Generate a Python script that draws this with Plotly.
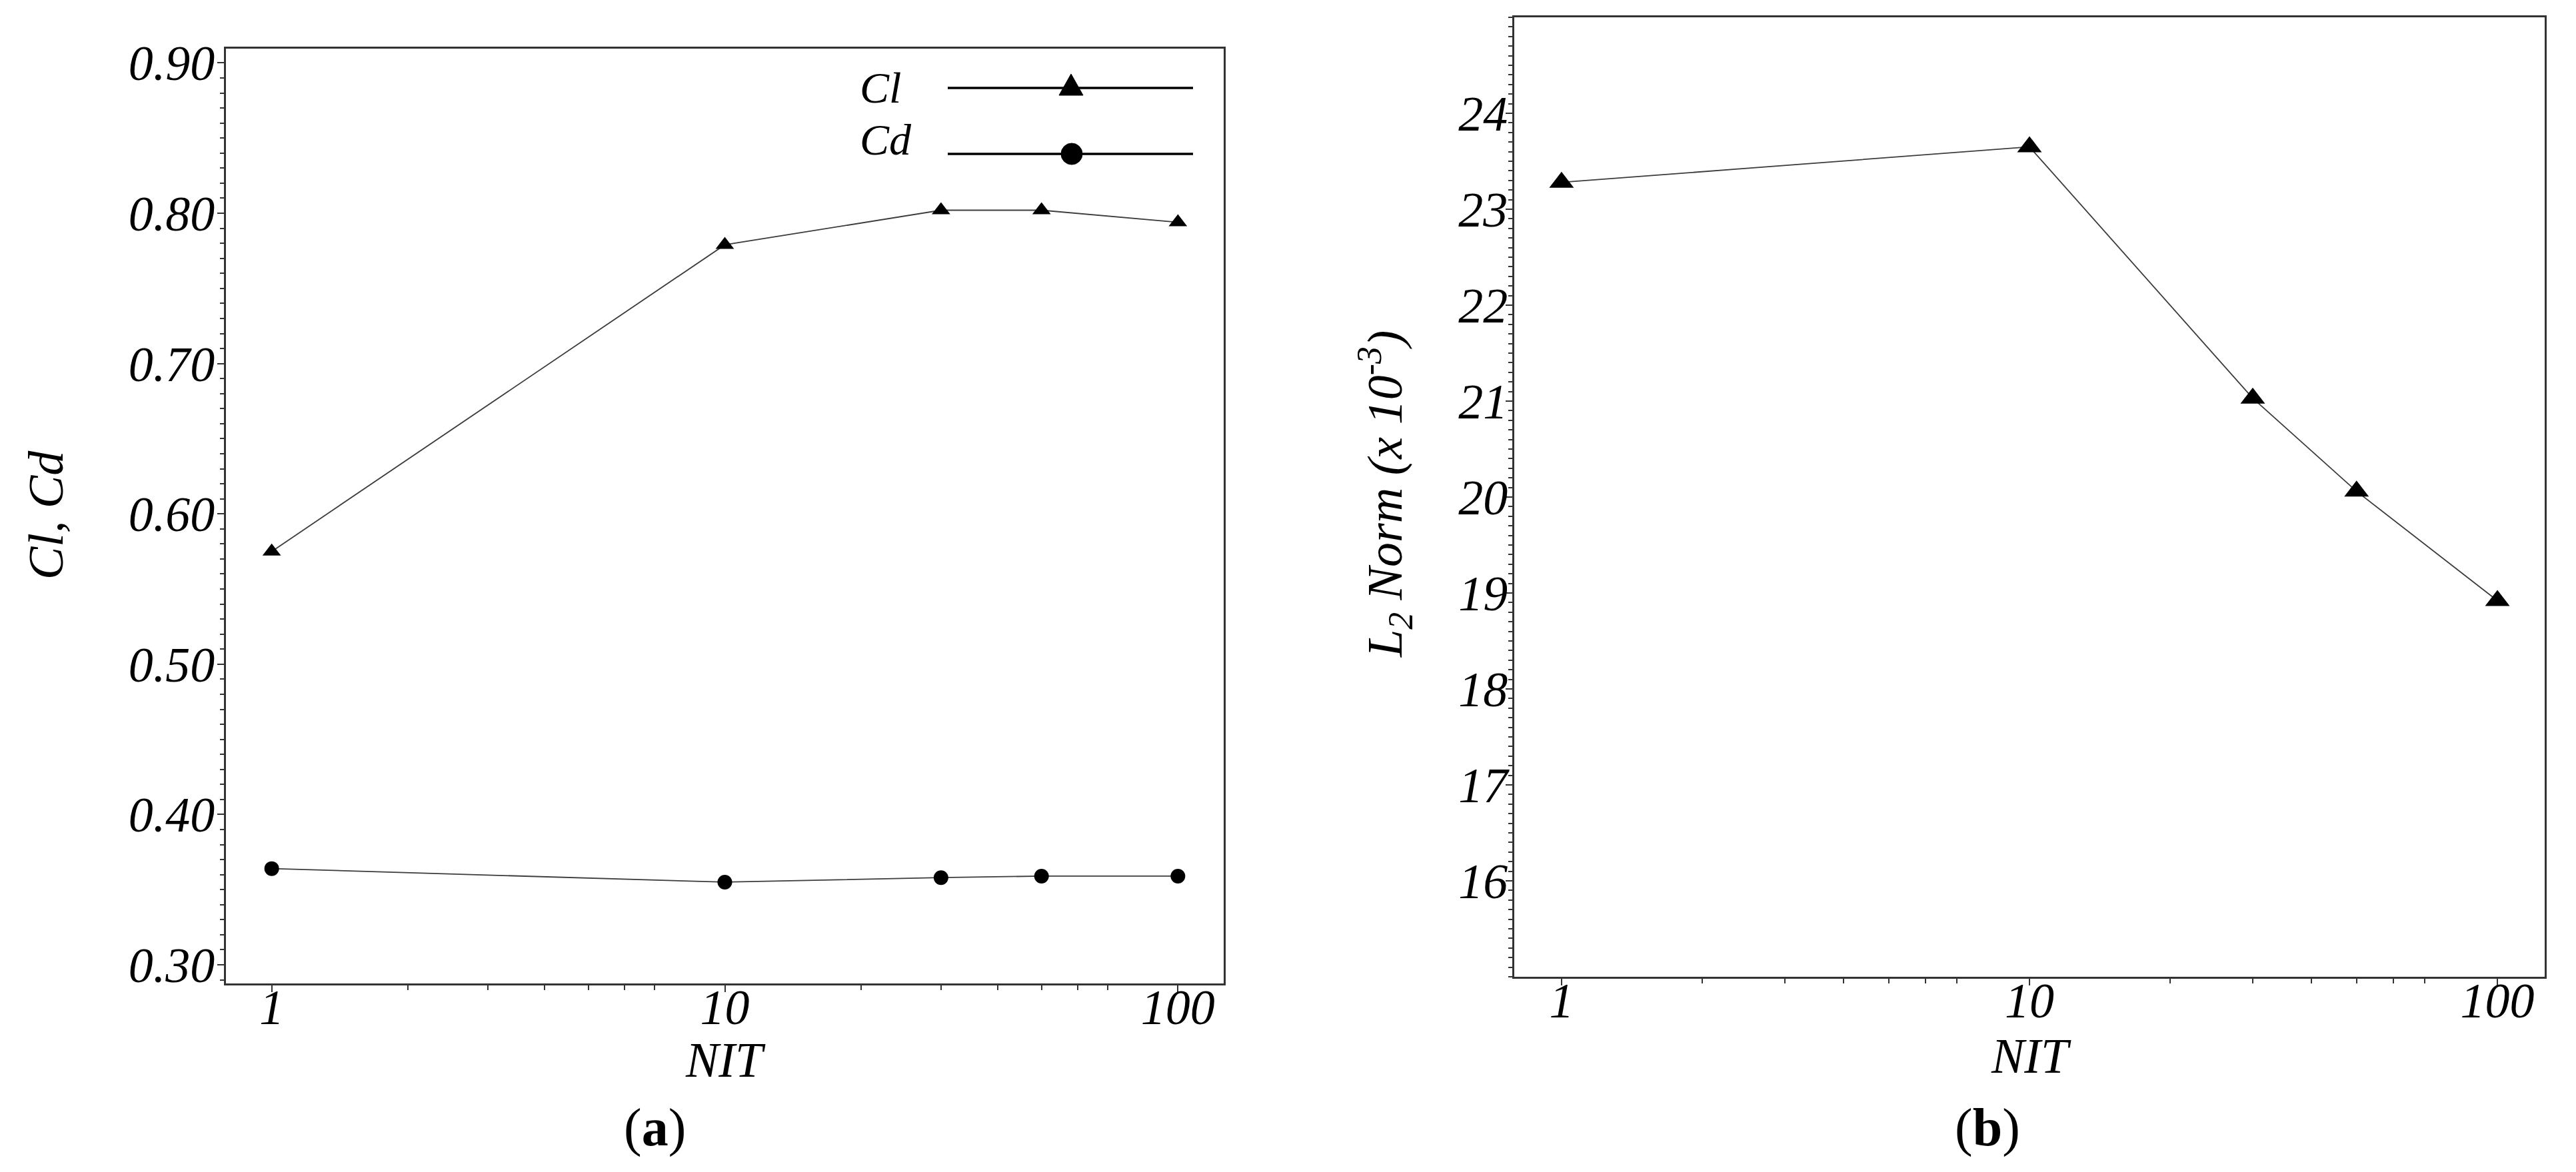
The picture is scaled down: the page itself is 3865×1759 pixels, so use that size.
import plotly.graph_objects as go

# ---------------- data ----------------
nit = [1, 10, 30, 50, 100]
cl_values = [0.575, 0.779, 0.802, 0.802, 0.794]
cd_values = [0.364, 0.355, 0.358, 0.359, 0.359]
l2_values = [23.28, 23.65, 21.03, 20.06, 18.92]

x_tickvals = [1, 10, 100]
x_ticktext = ["1", "10", "100"]
x_minor = [2, 3, 4, 5, 6, 7, 20, 30, 40, 50, 60, 70]
left_yticks = [0.30, 0.40, 0.50, 0.60, 0.70, 0.80, 0.90]
right_yticks = [16, 17, 18, 19, 20, 21, 22, 23, 24]

W, H = 3865, 1759
OFF = 8  # default page body margin
FONT = "Liberation Serif"
AX = "#333333"
LINE = "#3c3c3c"


def fx(p):
    return (p - OFF) / W


def fy(p):
    return 1 - (p - OFF) / H


fig = go.Figure()

fig.add_trace(go.Scatter(
    x=nit, y=cl_values, mode="lines+markers", name="Cl",
    line=dict(color=LINE, width=1.8),
    marker=dict(symbol="triangle-up", size=24, color="black"),
    xaxis="x", yaxis="y", showlegend=False))
fig.add_trace(go.Scatter(
    x=nit, y=cd_values, mode="lines+markers", name="Cd",
    line=dict(color=LINE, width=1.8),
    marker=dict(symbol="circle", size=22, color="black"),
    xaxis="x", yaxis="y", showlegend=False))
fig.add_trace(go.Scatter(
    x=nit, y=l2_values, mode="lines+markers", name="L2 Norm",
    line=dict(color=LINE, width=1.8),
    marker=dict(symbol="triangle-up", size=32, color="black"),
    xaxis="x2", yaxis="y2", showlegend=False))

tickfont = dict(family=FONT, size=74, color="black", style="italic")

common_x = dict(
    type="log", range=[-0.101, 2.101], tickmode="array",
    tickvals=x_tickvals, ticktext=x_ticktext,
    showline=True, linecolor=AX, linewidth=3, mirror=True,
    ticks="outside", ticklen=10, tickwidth=2, tickcolor=AX,
    showgrid=False, zeroline=False, tickfont=tickfont, automargin=False,
    ticklabelstandoff=-41,
    minor=dict(tickmode="array", tickvals=x_minor, ticks="outside",
               ticklen=7, tickwidth=2, tickcolor=AX, showgrid=False),
)
common_y = dict(
    showline=True, linecolor=AX, linewidth=3, mirror=True,
    ticks="outside", ticklen=10, tickwidth=2, tickcolor=AX,
    showgrid=False, zeroline=False, tickfont=tickfont, automargin=False,
)

fig.update_layout(
    template="none",
    width=W, height=H,
    margin=dict(l=0, r=0, t=0, b=0, autoexpand=False),
    paper_bgcolor="white", plot_bgcolor="white",
    xaxis=dict(domain=[fx(339), fx(1836)], anchor="y", **common_x),
    yaxis=dict(domain=[fy(1476), fy(73)], anchor="x",
               range=[0.2876, 0.9095], tickmode="array",
               tickvals=left_yticks, tickformat=".2f",
               ticklabelstandoff=-11,
               minor=dict(dtick=0.01, ticks="outside", ticklen=6,
                          tickwidth=2, tickcolor=AX, showgrid=False),
               **common_y),
    xaxis2=dict(domain=[fx(2272), fx(3818)], anchor="y2", **common_x),
    yaxis2=dict(domain=[fy(1466), fy(26)], anchor="x2",
                range=[15, 25], tickmode="array", tickvals=right_yticks,
                ticklabelstandoff=-18,
                minor=dict(dtick=0.1, ticks="outside", ticklen=6,
                           tickwidth=2, tickcolor=AX, showgrid=False),
                **common_y),
)

ann_font = dict(family=FONT, size=74, color="black")
annotations = [
    # axis titles
    dict(text="<i>NIT</i>", x=fx(1088), y=fy(1591), xref="paper", yref="paper",
         showarrow=False, xanchor="center", yanchor="middle", font=ann_font),
    dict(text="<i>NIT</i>", x=fx(3047), y=fy(1585), xref="paper", yref="paper",
         showarrow=False, xanchor="center", yanchor="middle", font=ann_font),
    dict(text="<i>Cl, Cd</i>", x=fx(69), y=fy(773), xref="paper", yref="paper",
         showarrow=False, xanchor="center", yanchor="middle", textangle=-90,
         font=ann_font),
    dict(text="<i>L<sub>2</sub> Norm (x 10<sup>-3</sup>)</i>", x=fx(2078), y=fy(742),
         xref="paper", yref="paper", showarrow=False, xanchor="center",
         yanchor="middle", textangle=-90, font=ann_font),
    # captions
    dict(text="(<b>a</b>)", x=fx(983), y=fy(1692), xref="paper", yref="paper",
         showarrow=False, xanchor="center", yanchor="middle",
         font=dict(family=FONT, size=80, color="black")),
    dict(text="(<b>b</b>)", x=fx(2982), y=fy(1692), xref="paper", yref="paper",
         showarrow=False, xanchor="center", yanchor="middle",
         font=dict(family=FONT, size=80, color="black")),
    # legend labels
    dict(text="<i>Cl</i>", x=fx(1288), y=fy(131), xref="paper", yref="paper",
         showarrow=False, xanchor="left", yanchor="middle",
         font=dict(family=FONT, size=66, color="black")),
    dict(text="<i>Cd</i>", x=fx(1288), y=fy(210), xref="paper", yref="paper",
         showarrow=False, xanchor="left", yanchor="middle",
         font=dict(family=FONT, size=66, color="black")),
]
fig.update_layout(annotations=annotations)

# legend keys (decorative)
shapes = [
    dict(type="line", xref="paper", yref="paper", x0=fx(1422), x1=fx(1790),
         y0=fy(132), y1=fy(132), line=dict(color="black", width=3.5)),
    dict(type="line", xref="paper", yref="paper", x0=fx(1422), x1=fx(1790),
         y0=fy(231), y1=fy(231), line=dict(color="black", width=3.5)),
    dict(type="path", xref="paper", yref="paper",
         path=f"M {fx(1589)},{fy(143)} L {fx(1625)},{fy(143)} L {fx(1607)},{fy(111)} Z",
         fillcolor="black", line=dict(color="black", width=1)),
    dict(type="circle", xref="paper", yref="paper",
         x0=fx(1592), x1=fx(1624), y0=fy(247), y1=fy(215),
         fillcolor="black", line=dict(color="black", width=1)),
]
fig.update_layout(shapes=shapes)

fig.write_html("out.html")
